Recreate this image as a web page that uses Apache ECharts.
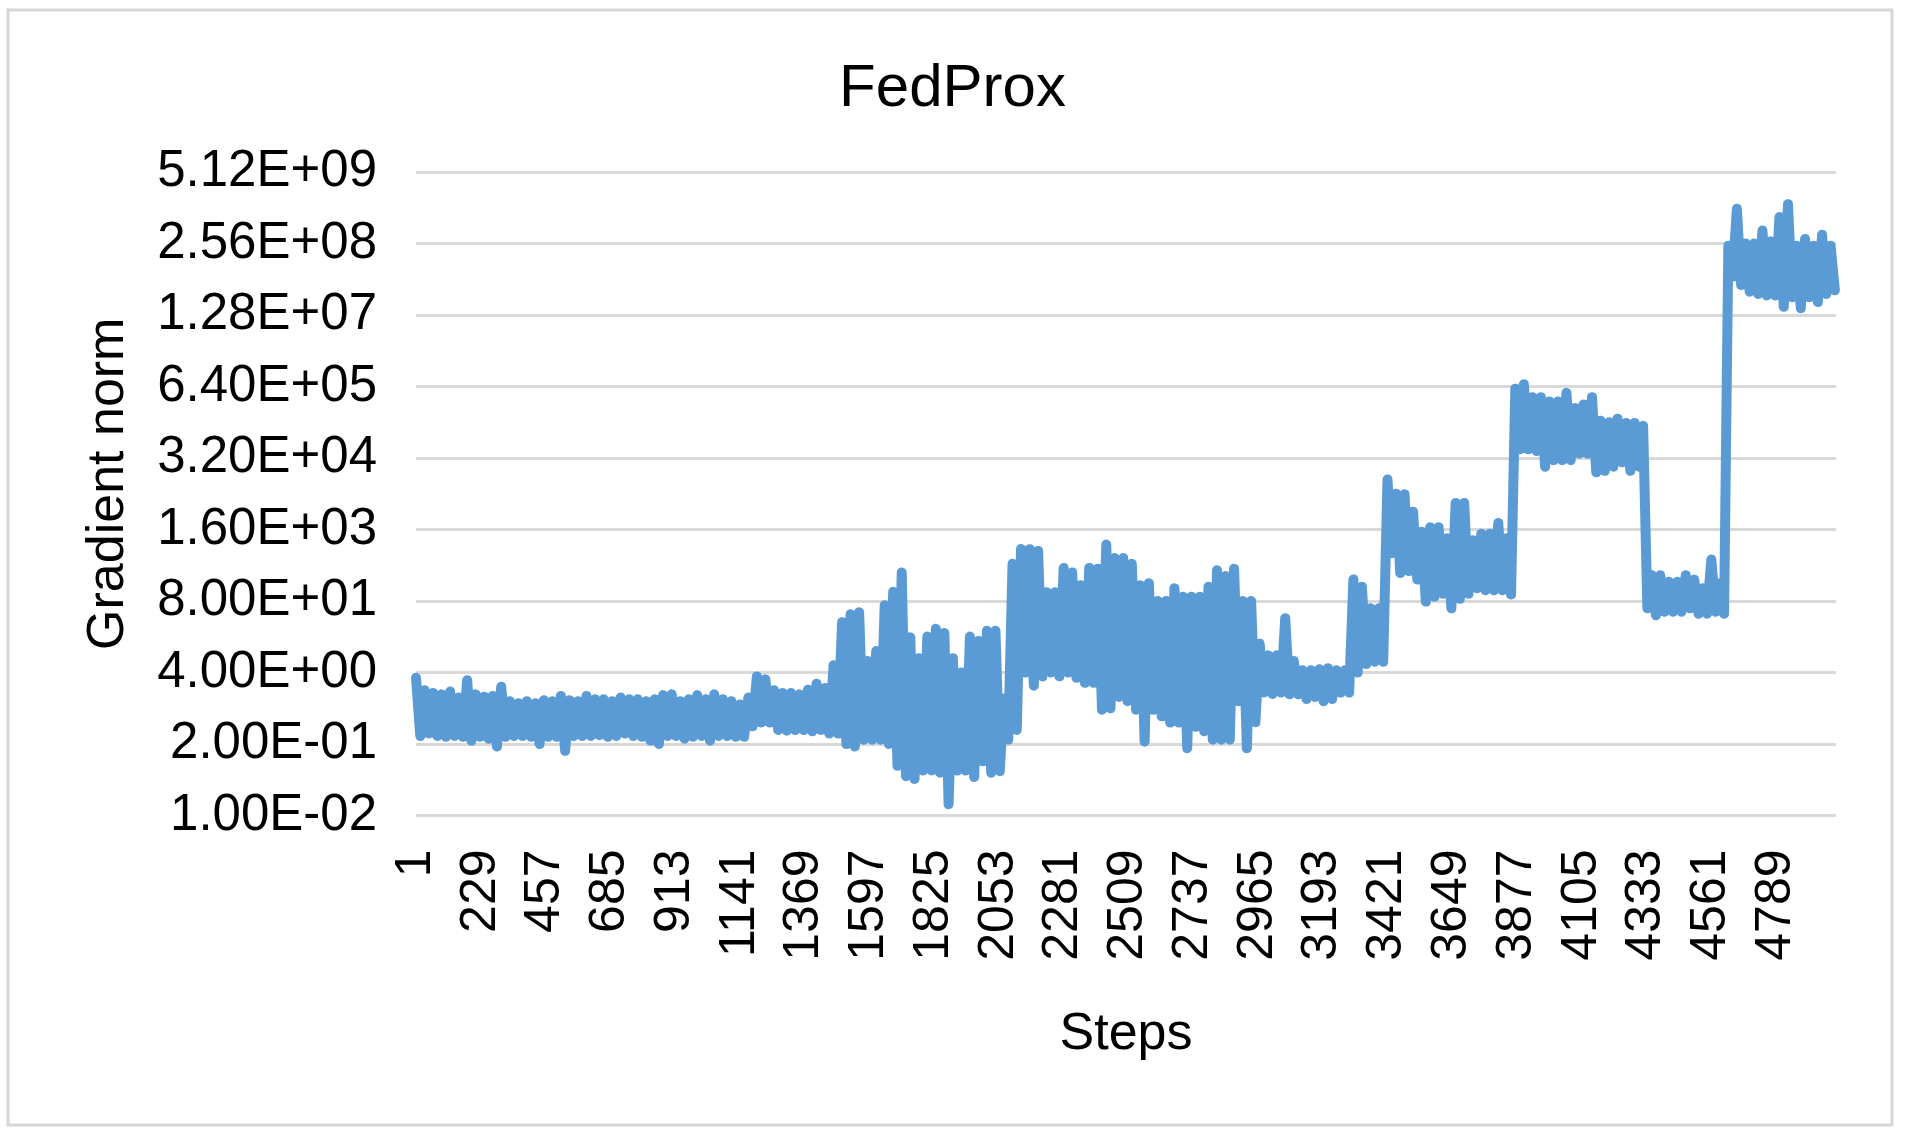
<!DOCTYPE html>
<html>
<head>
<meta charset="utf-8">
<title>FedProx</title>
<script src="https://cdn.jsdelivr.net/npm/echarts@6/dist/echarts.min.js"></script>
<style>
  html, body { margin: 0; padding: 0; background: #fff; }
  #chart { width: 1905px; height: 1135px; }
</style>
</head>
<body>
<div id="chart"></div>
<script>
// y axis: every gridline is 20x the one below it
const yTickValues = [0.01, 0.2, 4, 80, 1600, 32000, 640000, 1.28e7, 2.56e8, 5.12e9];

// training steps 1..5000
const stepCount = 5000;
const steps = Array.from({ length: stepCount }, (_, i) => String(i + 1));

// gradient norm, one reading every 15 steps (step 1, 16, 31, ...)
const sampleEvery = 15;
const gradNorm = [
  3.2, 0.28, 1.9, 0.31, 1.7, 0.28, 1.6, 0.27, 1.8, 0.28,
  1.4, 0.27, 2.9, 0.23, 1.6, 0.27, 1.45, 0.25, 1.5, 0.18,
  2.2, 0.27, 1.2, 0.28, 1.1, 0.28, 1.2, 0.27, 1.1, 0.2,
  1.25, 0.27, 1.2, 0.27, 1.5, 0.15, 1.25, 0.28, 1.2, 0.28,
  1.5, 0.28, 1.3, 0.29, 1.3, 0.27, 1.2, 0.28, 1.4, 0.31,
  1.3, 0.28, 1.3, 0.27, 1.2, 0.23, 1.3, 0.2, 1.55, 0.28,
  1.6, 0.28, 1.2, 0.25, 1.3, 0.27, 1.55, 0.28, 1.3, 0.23,
  1.6, 0.28, 1.3, 0.28, 1.2, 0.27, 1.05, 0.27, 1.4, 0.42,
  3.4, 0.49, 3.0, 0.49, 1.9, 0.36, 1.7, 0.35, 1.7, 0.36,
  1.6, 0.36, 1.95, 0.34, 2.5, 0.36, 2.1, 0.31, 5.4, 0.31,
  33, 0.2, 46, 0.18, 50, 0.24, 6.5, 0.24, 9.8, 0.24,
  67, 0.2, 118, 0.08, 265, 0.052, 17.5, 0.046, 7.3, 0.066,
  18, 0.066, 25, 0.06, 21, 0.016, 7.3, 0.066, 4, 0.066,
  18, 0.05, 15, 0.097, 23, 0.06, 23, 0.064, 1.35, 0.24,
  380, 0.36, 710, 4, 700, 2.3, 650, 3.4, 115, 4,
  115, 3.4, 318, 4, 265, 3.2, 155, 2.6, 320, 2.6,
  310, 0.84, 850, 0.89, 483, 1.44, 483, 1.2, 380, 0.84,
  155, 0.22, 169, 0.84, 80, 0.64, 80, 0.49, 137, 0.49,
  96, 0.167, 96, 0.41, 96, 0.34, 146, 0.24, 290, 0.24,
  228, 0.24, 310, 1.2, 80, 0.167, 80, 0.5, 13.3, 1.73,
  8.2, 1.63, 8.2, 1.73, 39, 1.6, 6.5, 1.6, 4.4, 1.32,
  4.4, 1.44, 4.6, 1.2, 4.8, 1.32, 4.4, 1.73, 4.4, 1.73,
  196, 4, 146, 5.7, 59, 6.3, 59, 6.3, 13000, 595,
  7150, 258, 7000, 280, 3380, 196, 1460, 78, 1750, 96,
  1750, 108, 1110, 59, 4850, 88, 4850, 108, 1020, 137,
  1340, 126, 1340, 126, 2100, 126, 1110, 105, 585000, 46000,
  700000, 46000, 410000, 43000, 410000, 22200, 341000, 29300, 341000, 29300,
  490000, 29300, 260000, 38400, 300000, 38400, 410000, 17600, 152000, 18700,
  143000, 22200, 166000, 26700, 139000, 18700, 139000, 22200, 123000, 59,
  235, 44, 235, 51, 180, 51, 180, 51, 235, 59,
  196, 47, 137, 47, 456, 51, 169, 47, 2.34e8, 6.4e7,
  1.1e9, 4.5e7, 2.56e8, 3.4e7, 2.56e8, 3.1e7, 4.4e8, 2.9e7, 2.8e8, 2.9e7,
  7.8e8, 1.8e7, 1.33e9, 2.7e7, 2.34e8, 1.7e7, 3.1e8, 2.7e7, 2.34e8, 2.2e7,
  3.7e8, 3.1e7, 2.34e8, 3.6e7
];

// position on the base-20 log axis (0 = first gridline)
const toLevel = v => Math.log(v / yTickValues[0]) / Math.log(20);

// Excel-like "5.12E+09"
const sci = v => {
  const e = Math.floor(Math.log10(v) + 1e-9);
  const m = v / Math.pow(10, e);
  return m.toFixed(2) + 'E' + (e < 0 ? '-' : '+') + String(Math.abs(e)).padStart(2, '0');
};

const font = '"Liberation Sans", Arial, Helvetica, sans-serif';

const chart = echarts.init(document.getElementById('chart'));

chart.setOption({
  backgroundColor: '#fff',
  animation: false,
  title: {
    text: 'FedProx',
    left: 'center',
    top: 54,
    textStyle: { fontFamily: font, fontSize: 60, fontWeight: 'normal', color: '#000' }
  },
  graphic: [
    {
      type: 'rect',
      shape: { x: 8, y: 10, width: 1884, height: 1115 },
      style: { fill: 'none', stroke: '#d6d6d6', lineWidth: 3 },
      silent: true
    }
  ],
  grid: {
    left: 416,
    right: 69,
    top: 172,
    bottom: 319.5
  },
  xAxis: {
    type: 'category',
    data: steps,
    boundaryGap: false,
    name: 'Steps',
    nameLocation: 'middle',
    nameGap: 193,
    nameTextStyle: { fontFamily: font, fontSize: 52, color: '#000' },
    axisLine: { show: false },
    axisTick: { show: false },
    axisLabel: {
      interval: 227,
      rotate: 90,
      margin: 34,
      fontFamily: font,
      fontSize: 50,
      color: '#000'
    },
    splitLine: { show: false }
  },
  yAxis: {
    type: 'value',
    min: 0,
    max: yTickValues.length - 1,
    interval: 1,
    name: 'Gradient norm',
    nameLocation: 'middle',
    nameGap: 281,
    nameTextStyle: { fontFamily: font, fontSize: 52, color: '#000', padding: [0, 0, 0, 20] },
    axisLine: { show: false },
    axisTick: { show: false },
    axisLabel: {
      margin: 39,
      fontFamily: font,
      fontSize: 51,
      color: '#000',
      formatter: k => sci(yTickValues[Math.round(k)])
    },
    splitLine: { lineStyle: { color: '#d9d9d9', width: 3 } }
  },
  series: [
    {
      name: 'Gradient norm',
      type: 'line',
      data: gradNorm.map((v, i) => [steps[i * sampleEvery], toLevel(v)]),
      showSymbol: false,
      lineStyle: { color: '#5b9bd5', width: 10, cap: 'round', join: 'round' }
    }
  ]
});
</script>
</body>
</html>
